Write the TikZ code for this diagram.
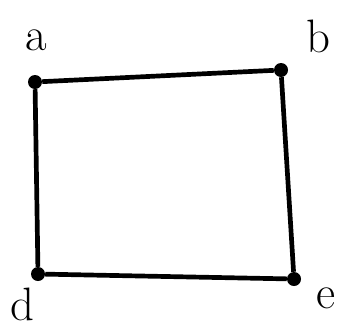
\documentclass[tikz,border=0pt]{standalone}
\usepackage{tikz}
\usetikzlibrary{positioning}

\begin{document}
\begin{tikzpicture}[
  x=0.03cm,
  y=-0.03cm,
  every node/.style={font=\fontsize{40}{40}\selectfont},
  vertex/.style={circle, fill, inner sep=0pt, minimum size=0.42cm},
  tag/.style={inner sep=0pt},
  edge/.style={line width=4pt, line join=round}
]

\useasboundingbox (0,0) rectangle (343,329);

\node[vertex] (a) at (35,82) {};
\node[vertex] (b) at (281,70) {};
\node[vertex] (d) at (38,274) {};
\node[vertex] (e) at (294,279) {};

\node[tag] (la) at (36,40) {a};
\node[tag] (lb) at (318,36) {b};
\node[tag] (ld) at (22,304) {d};
\node[tag] (le) at (326,298) {e};

\draw[edge] (a) -- (b);
\draw[edge] (b) -- (e);
\draw[edge] (e) -- (d);
\draw[edge] (d) -- (a);

\end{tikzpicture}
\end{document}
